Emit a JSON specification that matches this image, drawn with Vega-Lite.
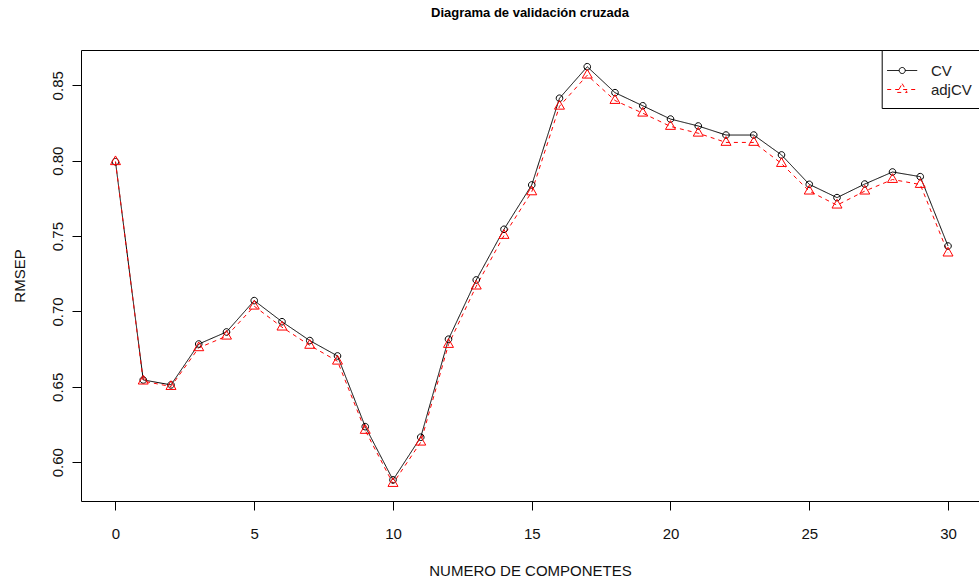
{
  "$schema": "https://vega.github.io/schema/vega-lite/v6.json",
  "width": 898,
  "height": 451,
  "autosize": {"type": "none"},
  "padding": {"left": 81, "top": 50, "right": 0, "bottom": 80},
  "background": "white",
  "title": {
    "text": "Diagrama de validación cruzada",
    "font": "Liberation Sans",
    "fontSize": 13,
    "fontWeight": "bold",
    "color": "black",
    "anchor": "middle",
    "offset": 30
  },
  "config": {
    "view": {"stroke": "black", "strokeWidth": 1},
    "axis": {
      "domain": false,
      "grid": false,
      "ticks": true,
      "tickColor": "black",
      "tickSize": 9,
      "tickWidth": 1,
      "labelFont": "Liberation Sans",
      "labelFontSize": 15,
      "labelColor": "#111",
      "titleFont": "Liberation Sans",
      "titleFontSize": 15,
      "titleFontWeight": "normal",
      "titleColor": "#111"
    }
  },
  "data": {
    "values": [
      {"comp": 0, "series": "CV", "rmsep": 0.7993},
      {"comp": 1, "series": "CV", "rmsep": 0.6546},
      {"comp": 2, "series": "CV", "rmsep": 0.6513},
      {"comp": 3, "series": "CV", "rmsep": 0.6784},
      {"comp": 4, "series": "CV", "rmsep": 0.6864},
      {"comp": 5, "series": "CV", "rmsep": 0.7072},
      {"comp": 6, "series": "CV", "rmsep": 0.6932},
      {"comp": 7, "series": "CV", "rmsep": 0.6807},
      {"comp": 8, "series": "CV", "rmsep": 0.6705},
      {"comp": 9, "series": "CV", "rmsep": 0.6236},
      {"comp": 10, "series": "CV", "rmsep": 0.5883},
      {"comp": 11, "series": "CV", "rmsep": 0.6166},
      {"comp": 12, "series": "CV", "rmsep": 0.6816},
      {"comp": 13, "series": "CV", "rmsep": 0.7209},
      {"comp": 14, "series": "CV", "rmsep": 0.7545},
      {"comp": 15, "series": "CV", "rmsep": 0.7839},
      {"comp": 16, "series": "CV", "rmsep": 0.8414},
      {"comp": 17, "series": "CV", "rmsep": 0.8623},
      {"comp": 18, "series": "CV", "rmsep": 0.8451},
      {"comp": 19, "series": "CV", "rmsep": 0.8364},
      {"comp": 20, "series": "CV", "rmsep": 0.8276},
      {"comp": 21, "series": "CV", "rmsep": 0.8230},
      {"comp": 22, "series": "CV", "rmsep": 0.8170},
      {"comp": 23, "series": "CV", "rmsep": 0.8170},
      {"comp": 24, "series": "CV", "rmsep": 0.8038},
      {"comp": 25, "series": "CV", "rmsep": 0.7843},
      {"comp": 26, "series": "CV", "rmsep": 0.7755},
      {"comp": 27, "series": "CV", "rmsep": 0.7845},
      {"comp": 28, "series": "CV", "rmsep": 0.7925},
      {"comp": 29, "series": "CV", "rmsep": 0.7894},
      {"comp": 30, "series": "CV", "rmsep": 0.7434},
      {"comp": 0, "series": "adjCV", "rmsep": 0.7993},
      {"comp": 1, "series": "adjCV", "rmsep": 0.6538},
      {"comp": 2, "series": "adjCV", "rmsep": 0.6502},
      {"comp": 3, "series": "adjCV", "rmsep": 0.6759},
      {"comp": 4, "series": "adjCV", "rmsep": 0.6836},
      {"comp": 5, "series": "adjCV", "rmsep": 0.7035},
      {"comp": 6, "series": "adjCV", "rmsep": 0.6896},
      {"comp": 7, "series": "adjCV", "rmsep": 0.6775},
      {"comp": 8, "series": "adjCV", "rmsep": 0.6670},
      {"comp": 9, "series": "adjCV", "rmsep": 0.6211},
      {"comp": 10, "series": "adjCV", "rmsep": 0.5859},
      {"comp": 11, "series": "adjCV", "rmsep": 0.6133},
      {"comp": 12, "series": "adjCV", "rmsep": 0.6781},
      {"comp": 13, "series": "adjCV", "rmsep": 0.7168},
      {"comp": 14, "series": "adjCV", "rmsep": 0.7504},
      {"comp": 15, "series": "adjCV", "rmsep": 0.7793},
      {"comp": 16, "series": "adjCV", "rmsep": 0.8361},
      {"comp": 17, "series": "adjCV", "rmsep": 0.8567},
      {"comp": 18, "series": "adjCV", "rmsep": 0.8399},
      {"comp": 19, "series": "adjCV", "rmsep": 0.8315},
      {"comp": 20, "series": "adjCV", "rmsep": 0.8227},
      {"comp": 21, "series": "adjCV", "rmsep": 0.8182},
      {"comp": 22, "series": "adjCV", "rmsep": 0.8121},
      {"comp": 23, "series": "adjCV", "rmsep": 0.8121},
      {"comp": 24, "series": "adjCV", "rmsep": 0.7981},
      {"comp": 25, "series": "adjCV", "rmsep": 0.7798},
      {"comp": 26, "series": "adjCV", "rmsep": 0.7705},
      {"comp": 27, "series": "adjCV", "rmsep": 0.7798},
      {"comp": 28, "series": "adjCV", "rmsep": 0.7875},
      {"comp": 29, "series": "adjCV", "rmsep": 0.7842},
      {"comp": 30, "series": "adjCV", "rmsep": 0.7387}
    ]
  },
  "encoding": {
    "x": {
      "field": "comp",
      "type": "quantitative",
      "scale": {"domain": [-1.243, 31.117], "nice": false, "zero": false},
      "axis": {
        "values": [0, 5, 10, 15, 20, 25, 30],
        "labelPadding": 16,
        "labelBaseline": "top",
        "title": "NUMERO DE COMPONETES",
        "titlePadding": 22
      }
    },
    "y": {
      "field": "rmsep",
      "type": "quantitative",
      "scale": {"domain": [0.5743, 0.8734], "nice": false, "zero": false},
      "axis": {
        "values": [0.6, 0.65, 0.7, 0.75, 0.8, 0.85],
        "format": ".2f",
        "labelAngle": 270,
        "labelAlign": "center",
        "labelBaseline": "alphabetic",
        "labelPadding": 10,
        "title": "RMSEP",
        "titlePadding": 23
      }
    }
  },
  "layer": [
    {
      "mark": {"type": "line", "strokeWidth": 1},
      "encoding": {
        "color": {
          "field": "series",
          "type": "nominal",
          "scale": {"domain": ["CV", "adjCV"], "range": ["black", "red"]},
          "legend": {
            "orient": "none",
            "legendX": 800.7,
            "legendY": 0,
            "title": null,
            "strokeColor": "black",
            "fillColor": "white",
            "padding": 10,
            "rowPadding": 0,
            "symbolSize": 380,
            "symbolStrokeWidth": 1,
            "symbolFillColor": "transparent",
            "labelFont": "Liberation Sans",
            "labelFontSize": 15,
            "labelColor": "#222",
            "labelOffset": 18.2
          }
        },
        "strokeDash": {
          "field": "series",
          "type": "nominal",
          "scale": {"domain": ["CV", "adjCV"], "range": [[1, 0], [4, 4]]},
          "legend": {
            "orient": "none",
            "legendX": 800.7,
            "legendY": 0,
            "title": null,
            "strokeColor": "black",
            "fillColor": "white",
            "padding": 10,
            "rowPadding": 0,
            "symbolSize": 380,
            "symbolStrokeWidth": 1,
            "symbolFillColor": "transparent",
            "labelFont": "Liberation Sans",
            "labelFontSize": 15,
            "labelColor": "#222",
            "labelOffset": 18.2
          }
        }
      }
    },
    {
      "transform": [{"filter": "datum.series === 'CV'"}],
      "mark": {
        "type": "point",
        "filled": false,
        "strokeWidth": 1,
        "size": 100,
        "opacity": 1,
        "color": "black",
        "shape": "M0.66,0A0.66,0.66 0 1 1 -0.66,0A0.66,0.66 0 1 1 0.66,0Z"
      }
    },
    {
      "transform": [{"filter": "datum.series === 'adjCV'"}],
      "mark": {
        "type": "point",
        "filled": false,
        "strokeWidth": 1,
        "size": 100,
        "opacity": 1,
        "color": "red",
        "shape": "M0,-1.16L1,0.58L-1,0.58Z"
      }
    },
    {
      "mark": {"type": "point", "filled": false, "strokeWidth": 1, "size": 0, "opacity": 1},
      "encoding": {
        "color": {
          "field": "series",
          "type": "nominal",
          "scale": {"domain": ["CV", "adjCV"], "range": ["black", "red"]},
          "legend": {
            "orient": "none",
            "legendX": 800.7,
            "legendY": 0,
            "title": null,
            "strokeColor": "black",
            "fillColor": "white",
            "padding": 10,
            "rowPadding": 0,
            "symbolSize": 380,
            "symbolStrokeWidth": 1,
            "symbolFillColor": "transparent",
            "labelFont": "Liberation Sans",
            "labelFontSize": 15,
            "labelColor": "#222",
            "labelOffset": 18.2
          }
        },
        "shape": {
          "field": "series",
          "type": "nominal",
          "scale": {
            "domain": ["CV", "adjCV"],
            "range": [
              "M-1.54,0H-0.31M0.31,0H1.54M0.31,0A0.31,0.31 0 1 1 -0.31,0A0.31,0.31 0 1 1 0.31,0Z",
              "M-1.54,0H1.54M0,-0.6L0.51,0.3L-0.51,0.3Z"
            ]
          },
          "legend": {
            "orient": "none",
            "legendX": 800.7,
            "legendY": 0,
            "title": null,
            "strokeColor": "black",
            "fillColor": "white",
            "padding": 10,
            "rowPadding": 0,
            "symbolSize": 380,
            "symbolStrokeWidth": 1,
            "symbolFillColor": "transparent",
            "labelFont": "Liberation Sans",
            "labelFontSize": 15,
            "labelColor": "#222",
            "labelOffset": 18.2
          }
        },
        "strokeDash": {
          "field": "series",
          "type": "nominal",
          "scale": {"domain": ["CV", "adjCV"], "range": [[1, 0], [4, 4]]},
          "legend": {
            "orient": "none",
            "legendX": 800.7,
            "legendY": 0,
            "title": null,
            "strokeColor": "black",
            "fillColor": "white",
            "padding": 10,
            "rowPadding": 0,
            "symbolSize": 380,
            "symbolStrokeWidth": 1,
            "symbolFillColor": "transparent",
            "labelFont": "Liberation Sans",
            "labelFontSize": 15,
            "labelColor": "#222",
            "labelOffset": 18.2
          }
        }
      }
    }
  ]
}
